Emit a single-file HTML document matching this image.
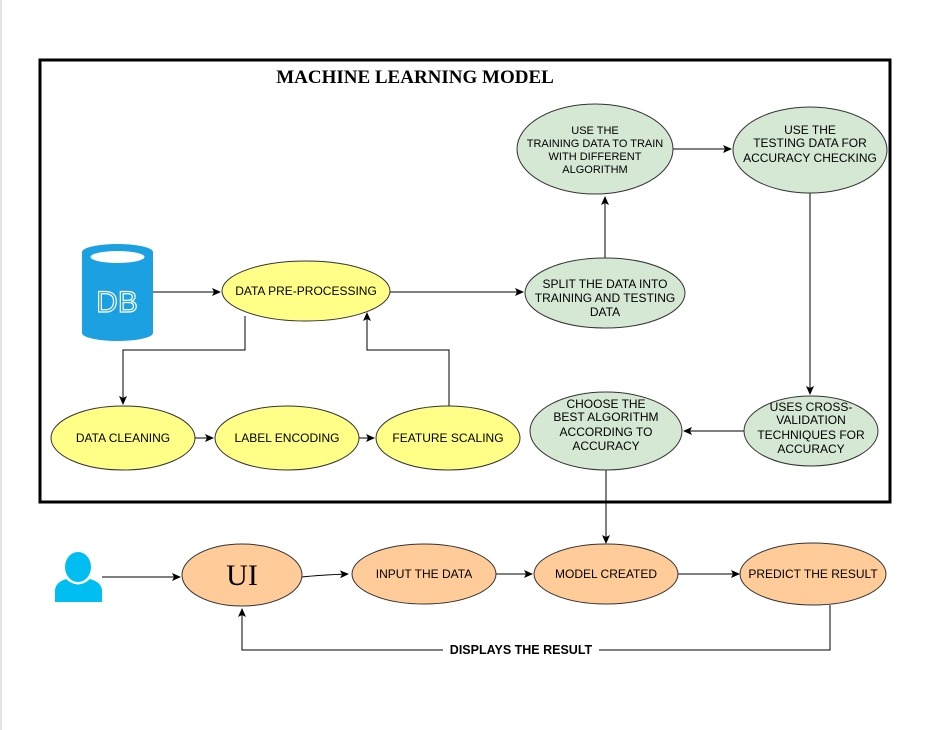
<!DOCTYPE html>
<html><head><style>body{margin:0;background:#fff}svg{display:block}text{font-family:"Liberation Sans",sans-serif;font-size:12px;fill:#000;text-anchor:middle}</style></head><body>
<svg width="948" height="730" viewBox="0 0 948 730">
<defs><marker id="a" markerWidth="10" markerHeight="10" refX="8" refY="5" orient="auto" markerUnits="userSpaceOnUse"><path d="M0,1 L9,5 L0,9 L2,5 Z" fill="#000"/></marker></defs>
<line x1="1" y1="0" x2="1" y2="730" stroke="#e4e4e4" stroke-width="2"/>
<rect x="40" y="60" width="850" height="442" fill="none" stroke="#000" stroke-width="3"/>
<text x="415" y="83" style="font-family:'Liberation Serif',serif;font-weight:bold;font-size:19px">MACHINE LEARNING MODEL</text>
<!-- DB -->
<path d="M82,252 A35.5,8 0 0 1 153,252 L153,333 A35.5,8 0 0 1 82,333 Z" fill="#1ba1e2"/>
<ellipse cx="117.5" cy="257" rx="27" ry="6" fill="#fff"/>
<text x="117" y="312" style="font-size:30px;fill:#1ba1e2;stroke:#fff;stroke-width:1.2">DB</text>
<g stroke="#000" fill="none" stroke-width="1">
<path d="M153,292 H220" marker-end="url(#a)"/>
<path d="M390,292 H523" marker-end="url(#a)"/>
<path d="M605,258 V197" marker-end="url(#a)"/>
<path d="M673,149 H731" marker-end="url(#a)"/>
<path d="M810,193 V394" marker-end="url(#a)"/>
<path d="M744,431 H684" marker-end="url(#a)"/>
<path d="M606,470 V543" marker-end="url(#a)"/>
<path d="M245,316 V350 H123 V404" marker-end="url(#a)"/>
<path d="M449,406 V350 H367 V313" marker-end="url(#a)"/>
<path d="M195,438 H213" marker-end="url(#a)"/>
<path d="M359,438 H374" marker-end="url(#a)"/>
<path d="M102,577 H180" marker-end="url(#a)"/>
<path d="M302,577 Q320,575 348,574" marker-end="url(#a)"/>
<path d="M496,574 H532" marker-end="url(#a)"/>
<path d="M678,574 H739" marker-end="url(#a)"/>
<path d="M830,605 V650 H242 V609" marker-end="url(#a)"/>
</g>
<g stroke="#333" stroke-width="1">
<ellipse cx="306" cy="291" rx="84" ry="30" fill="#ffff88"/>
<ellipse cx="123" cy="438" rx="72" ry="32" fill="#ffff88"/>
<ellipse cx="287" cy="438" rx="72" ry="32" fill="#ffff88"/>
<ellipse cx="448" cy="438" rx="72" ry="32" fill="#ffff88"/>
<ellipse cx="605" cy="293" rx="80" ry="35" fill="#d5e8d4"/>
<ellipse cx="595" cy="149" rx="78" ry="45" fill="#d5e8d4"/>
<ellipse cx="810" cy="150" rx="77" ry="43" fill="#d5e8d4"/>
<ellipse cx="811" cy="431" rx="67" ry="35" fill="#d5e8d4"/>
<ellipse cx="606" cy="431" rx="76" ry="39" fill="#d5e8d4"/>
<ellipse cx="242" cy="575" rx="60" ry="31" fill="#ffcc99"/>
<ellipse cx="424" cy="574" rx="72" ry="30" fill="#ffcc99"/>
<ellipse cx="606" cy="574" rx="72" ry="30" fill="#ffcc99"/>
<ellipse cx="813" cy="574" rx="73" ry="31" fill="#ffcc99"/>
</g>
<text x="306" y="295">DATA PRE-PROCESSING</text>
<text x="123" y="442">DATA CLEANING</text>
<text x="287" y="442">LABEL ENCODING</text>
<text x="448" y="442">FEATURE  SCALING</text>
<text x="605" y="288">SPLIT THE DATA INTO</text><text x="605" y="302">TRAINING AND TESTING</text><text x="605" y="316">DATA</text>
<text x="595" y="134" style="font-size:11px">USE THE</text><text x="595" y="147" style="font-size:11px">TRAINING DATA TO TRAIN</text><text x="595" y="160" style="font-size:11px">WITH DIFFERENT</text><text x="595" y="173" style="font-size:11px">ALGORITHM</text>
<text x="810" y="134">USE THE</text><text x="810" y="147">TESTING DATA FOR</text><text x="810" y="162">ACCURACY CHECKING</text>
<text x="811" y="411">USES CROSS-</text><text x="811" y="424">VALIDATION</text><text x="811" y="439">TECHNIQUES  FOR</text><text x="811" y="453">ACCURACY</text>
<text x="606" y="408">CHOOSE THE</text><text x="606" y="421">BEST ALGORITHM</text><text x="606" y="436">ACCORDING TO</text><text x="606" y="450">ACCURACY</text>
<text x="242" y="585" style="font-family:'Liberation Serif',serif;font-size:30px">UI</text>
<text x="424" y="578">INPUT THE DATA</text>
<text x="606" y="578">MODEL CREATED</text>
<text x="813" y="578">PREDICT THE RESULT</text>
<rect x="443" y="643" width="156" height="14" fill="#fff"/>
<text x="521" y="654" style="font-weight:bold;font-size:12.5px">DISPLAYS THE RESULT</text>
<!-- person -->
<ellipse cx="78" cy="567" rx="13" ry="15" fill="#00bef2"/>
<path d="M55,602 L55,590 Q56,582 66,579 Q78,590 90,579 Q101,582 102,590 L102,602 Z" fill="#00bef2"/>
</svg>
</body></html>
